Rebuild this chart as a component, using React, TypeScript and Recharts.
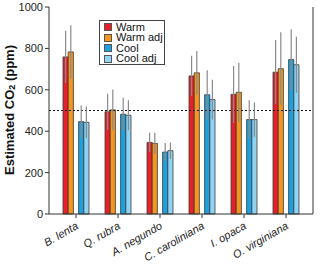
import { BarChart, Bar, XAxis, YAxis, ErrorBar, ReferenceLine } from "recharts";

// species and estimated CO2 (ppm)
const species = ["B. lenta", "Q. rubra", "A. negundo", "C. caroliniana", "I. opaca", "O. virginiana"];
const warm = [759, 494, 346, 667, 578, 685];
const warmAdj = [783, 503, 341, 682, 588, 702];
const cool = [446, 482, 299, 576, 456, 746];
const coolAdj = [443, 477, 306, 553, 456, 721];
const warmErr = [126, 87, 46, 97, 137, 155];
const warmAdjErr = [129, 99, 51, 105, 143, 176];
const coolErr = [78, 80, 44, 118, 94, 147];
const coolAdjErr = [76, 72, 40, 96, 83, 135];
const yTicks = [0, 200, 400, 600, 800, 1000];

const series = [
  { key: "warm", name: "Warm", color: "#e8202a" },
  { key: "warmAdj", name: "Warm adj", color: "#f7941d" },
  { key: "cool", name: "Cool", color: "#1ba1e2" },
  { key: "coolAdj", name: "Cool adj", color: "#8fd3f4" },
];

const data = species.map((name, i) => ({
  name,
  warm: warm[i],
  warmAdj: warmAdj[i],
  cool: cool[i],
  coolAdj: coolAdj[i],
  warmErr: warmErr[i],
  warmAdjErr: warmAdjErr[i],
  coolErr: coolErr[i],
  coolAdjErr: coolAdjErr[i],
}));

const font = "'Liberation Sans', Arial, sans-serif";

function XTick(props: any) {
  const { x, y, payload } = props;
  return (
    <text
      x={x + 3}
      y={y + 8}
      transform={`rotate(-30 ${x + 3} ${y + 8})`}
      textAnchor="end"
      fontSize={11}
      fontStyle="italic"
      fill="#222"
      fontFamily={font}
    >
      {payload.value}
    </text>
  );
}

function YTitle() {
  return (
    <text
      x={9}
      y={110}
      transform="rotate(-90 9 110)"
      textAnchor="middle"
      dominantBaseline="central"
      fontSize={13}
      fontWeight="bold"
      fill="#111"
      fontFamily={font}
    >
      Estimated CO
      <tspan fontSize={9} dy={3}>
        2
      </tspan>
      <tspan dy={-3}> (ppm)</tspan>
    </text>
  );
}

function LegendBox() {
  return (
    <div
      style={{
        position: "absolute",
        left: 99,
        top: 20,
        width: 66,
        height: 45,
        border: "1px solid #444",
        background: "#fff",
        fontFamily: font,
        fontSize: 11,
        lineHeight: "11px",
        padding: "1px 0 0 4px",
        boxSizing: "border-box",
        color: "#111",
        whiteSpace: "nowrap",
      }}
    >
      {series.map((s) => (
        <div key={s.key} style={{ display: "flex", alignItems: "center", height: 10.5 }}>
          <span
            style={{
              display: "inline-block",
              width: 6,
              height: 6,
              background: s.color,
              border: "1px solid #555",
              marginRight: 4,
            }}
          />
          {s.name}
        </div>
      ))}
    </div>
  );
}

export default function App() {
  return (
    <div style={{ position: "relative", width: 320, height: 266 }}>
      <style>{`body { margin: 0; }`}</style>
      <BarChart
        width={320}
        height={266}
        data={data}
        margin={{ top: 7, right: 7, left: 0, bottom: 0 }}
        barGap={0}
        barSize={5.2}
      >
        <XAxis
          dataKey="name"
          interval={0}
          height={52}
          padding={{ left: 6, right: 6 }}
          stroke="#333"
          tickSize={4}
          tick={<XTick />}
        />
        <XAxis
          xAxisId="top"
          dataKey="name"
          orientation="top"
          height={0}
          tick={false}
          tickLine={false}
          stroke="#333"
        />
        <YAxis
          domain={[0, 1000]}
          ticks={yTicks}
          width={49}
          stroke="#333"
          tickSize={4}
          tickMargin={2}
          tick={{ fontSize: 11, fill: "#222", fontFamily: font }}
          label={<YTitle />}
        />
        <YAxis
          yAxisId="right"
          orientation="right"
          mirror
          domain={[0, 1000]}
          ticks={yTicks}
          width={1}
          stroke="#333"
          tickSize={4}
          tickFormatter={() => ""}
        />
        <ReferenceLine y={500} stroke="#111" strokeDasharray="2 2" strokeWidth={1} />
        {series.slice(0, 2).map((s) => (
          <Bar
            key={s.key}
            dataKey={s.key}
            fill={s.color}
            stroke="#3a3a3a"
            strokeWidth={0.8}
            isAnimationActive={false}
          >
            <ErrorBar dataKey={s.key + "Err"} width={0} stroke="#8a8a8a" strokeWidth={1.2} />
          </Bar>
        ))}
        <Bar dataKey="spacer" legendType="none" isAnimationActive={false} />
        {series.slice(2).map((s) => (
          <Bar
            key={s.key}
            dataKey={s.key}
            fill={s.color}
            stroke="#3a3a3a"
            strokeWidth={0.8}
            isAnimationActive={false}
          >
            <ErrorBar dataKey={s.key + "Err"} width={0} stroke="#8a8a8a" strokeWidth={1.2} />
          </Bar>
        ))}
      </BarChart>
      <LegendBox />
    </div>
  );
}
